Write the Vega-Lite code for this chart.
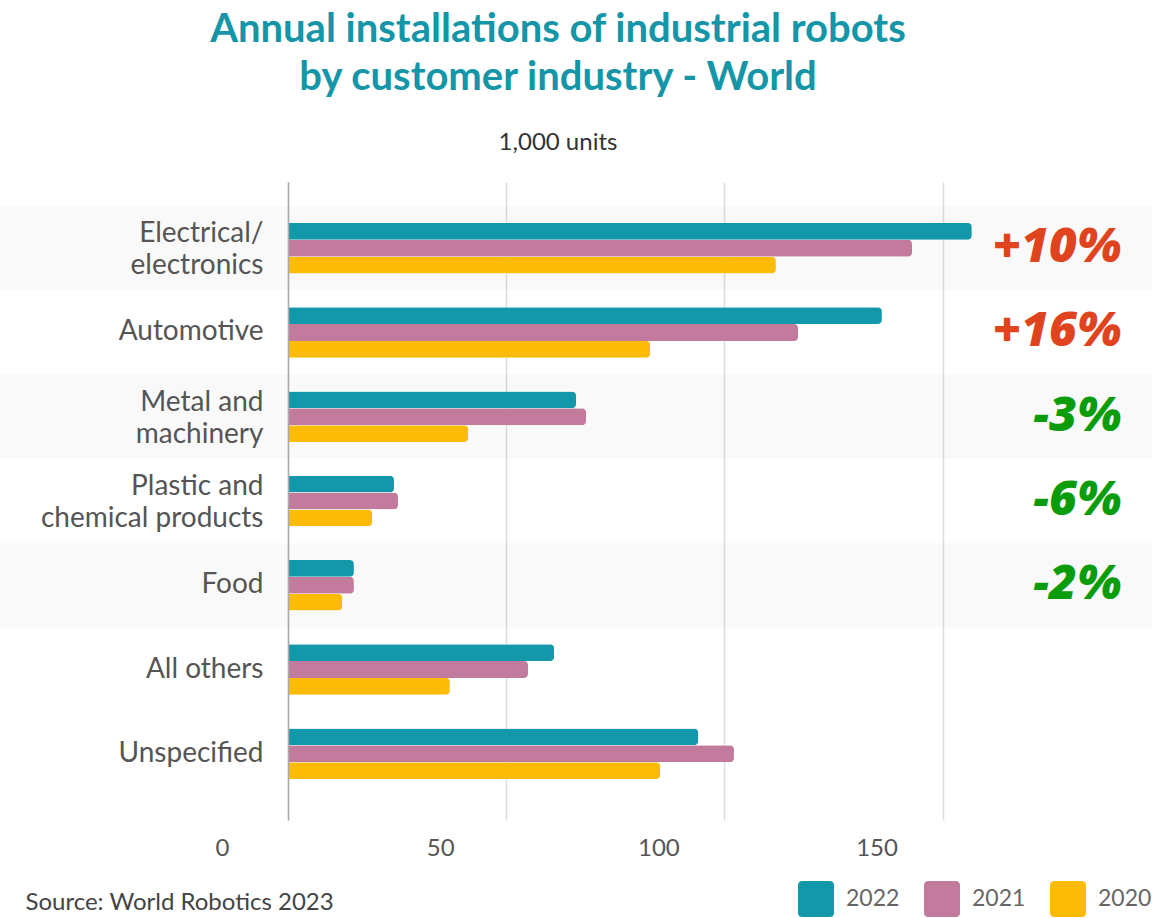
{
  "$schema": "https://vega.github.io/schema/vega-lite/v6.json",
  "width": 864,
  "height": 638,
  "autosize": {"type": "none"},
  "padding": {"left": 288, "top": 182, "right": 0, "bottom": 98},
  "background": "white",
  "config": {"font": "Lato", "view": {"stroke": null}},
  "title": {
    "text": ["Annual installations of industrial robots", "by customer industry - World"],
    "subtitle": "1,000 units",
    "fontSize": 40,
    "fontWeight": "bold",
    "color": "#1496a8",
    "lineHeight": 48,
    "anchor": "middle",
    "frame": "group",
    "dx": -162,
    "offset": 27,
    "subtitleFontSize": 24,
    "subtitleColor": "#333",
    "subtitlePadding": 33,
    "subtitleFont": "Lato"
  },
  "datasets": {
    "bars": [
      {"industry": "Electrical/\nelectronics", "year": "2022", "value": 156.7},
      {"industry": "Electrical/\nelectronics", "year": "2021", "value": 143.0},
      {"industry": "Electrical/\nelectronics", "year": "2020", "value": 111.8},
      {"industry": "Automotive", "year": "2022", "value": 136.1},
      {"industry": "Automotive", "year": "2021", "value": 116.9},
      {"industry": "Automotive", "year": "2020", "value": 83.0},
      {"industry": "Metal and \nmachinery", "year": "2022", "value": 66.0},
      {"industry": "Metal and \nmachinery", "year": "2021", "value": 68.3},
      {"industry": "Metal and \nmachinery", "year": "2020", "value": 41.3},
      {"industry": "Plastic and \nchemical products", "year": "2022", "value": 24.3},
      {"industry": "Plastic and \nchemical products", "year": "2021", "value": 25.2},
      {"industry": "Plastic and \nchemical products", "year": "2020", "value": 19.3},
      {"industry": "Food", "year": "2022", "value": 15.1},
      {"industry": "Food", "year": "2021", "value": 15.1},
      {"industry": "Food", "year": "2020", "value": 12.4},
      {"industry": "All others", "year": "2022", "value": 61.0},
      {"industry": "All others", "year": "2021", "value": 55.0},
      {"industry": "All others", "year": "2020", "value": 37.1},
      {"industry": "Unspecified", "year": "2022", "value": 94.0},
      {"industry": "Unspecified", "year": "2021", "value": 102.2},
      {"industry": "Unspecified", "year": "2020", "value": 85.3}
    ],
    "shade": [
      {"industry": "Electrical/\nelectronics"},
      {"industry": "Metal and \nmachinery"},
      {"industry": "Food"}
    ],
    "change": [
      {"industry": "Electrical/\nelectronics", "label": "+10%", "dir": "up"},
      {"industry": "Automotive", "label": "+16%", "dir": "up"},
      {"industry": "Metal and \nmachinery", "label": "-3%", "dir": "down"},
      {"industry": "Plastic and \nchemical products", "label": "-6%", "dir": "down"},
      {"industry": "Food", "label": "-2%", "dir": "down"}
    ]
  },
  "encoding": {
    "y": {
      "field": "industry",
      "type": "nominal",
      "sort": ["Electrical/\nelectronics", "Automotive", "Metal and \nmachinery", "Plastic and \nchemical products", "Food", "All others", "Unspecified"],
      "scale": {
        "domain": ["Electrical/\nelectronics", "Automotive", "Metal and \nmachinery", "Plastic and \nchemical products", "Food", "All others", "Unspecified"],
        "paddingInner": 0,
        "paddingOuter": 0.286
      },
      "axis": {
        "title": null,
        "ticks": false,
        "domain": true,
        "domainColor": "#aaaaaa",
        "domainWidth": 1.5,
        "labelFontSize": 28,
        "labelColor": "#555555",
        "labelPadding": 25,
        "labelLineHeight": 32,
        "labelLimit": 400,
        "labelBaseline": {"condition": {"test": "length(datum.value) > 12", "value": "bottom"}, "value": "middle"},
        "labelExpr": "split(datum.label, '\\n')"
      }
    }
  },
  "layer": [
    {
      "data": {"name": "shade"},
      "mark": {"type": "rect", "fill": "#000000", "fillOpacity": 0.025},
      "encoding": {
        "x": {"datum": -66, "type": "quantitative", "scale": {"domain": [0, 198], "nice": false}},
        "x2": {"datum": 198}
      }
    },
    {
      "data": {"name": "bars"},
      "mark": {"type": "bar", "cornerRadiusEnd": 4},
      "encoding": {
        "x": {
          "field": "value",
          "type": "quantitative",
          "scale": {"domain": [0, 198], "nice": false},
          "axis": {
            "values": [0, 50, 100, 150],
            "grid": true,
            "gridColor": "#dddddd",
            "gridWidth": 1.5,
            "domain": false,
            "ticks": false,
            "labelFlush": false,
            "labelOffset": -66,
            "labelFontSize": 24,
            "labelColor": "#555555",
            "labelPadding": 16,
            "title": "Source: World Robotics 2023",
            "titleX": -263,
            "titleY": 89,
            "titleAlign": "left",
            "titleAnchor": "start",
            "titleBaseline": "alphabetic",
            "titleFontSize": 24,
            "titleFontWeight": "normal",
            "titleColor": "#444444"
          }
        },
        "yOffset": {
          "field": "year",
          "type": "nominal",
          "sort": ["2022", "2021", "2020"],
          "scale": {"paddingInner": 0, "paddingOuter": 1.13}
        },
        "color": {
          "field": "year",
          "type": "nominal",
          "scale": {"domain": ["2022", "2021", "2020"], "range": ["#1398aa", "#c27b9d", "#fbbb06"]},
          "legend": {
            "orient": "none",
            "legendX": 510,
            "legendY": 699,
            "direction": "horizontal",
            "title": null,
            "padding": 0,
            "symbolType": "M-0.75,-1 L0.75,-1 Q1,-1 1,-0.75 L1,0.75 Q1,1 0.75,1 L-0.75,1 Q-1,1 -1,0.75 L-1,-0.75 Q-1,-1 -0.75,-1 Z",
            "symbolSize": 1296,
            "symbolOpacity": 1,
            "symbolStrokeWidth": 0,
            "labelFontSize": 23,
            "labelColor": "#666666",
            "labelOffset": 12,
            "columnPadding": 24
          }
        }
      }
    },
    {
      "data": {"name": "change"},
      "mark": {"type": "text", "align": "right", "baseline": "middle", "fontSize": 48, "fontStyle": "italic", "fontWeight": 800, "font": "Open Sans"},
      "encoding": {
        "x": {"datum": 191, "type": "quantitative"},
        "text": {"field": "label"},
        "color": {"condition": {"test": "datum.dir == 'up'", "value": "#e0441f"}, "value": "#0a9c0a"}
      }
    }
  ]
}
